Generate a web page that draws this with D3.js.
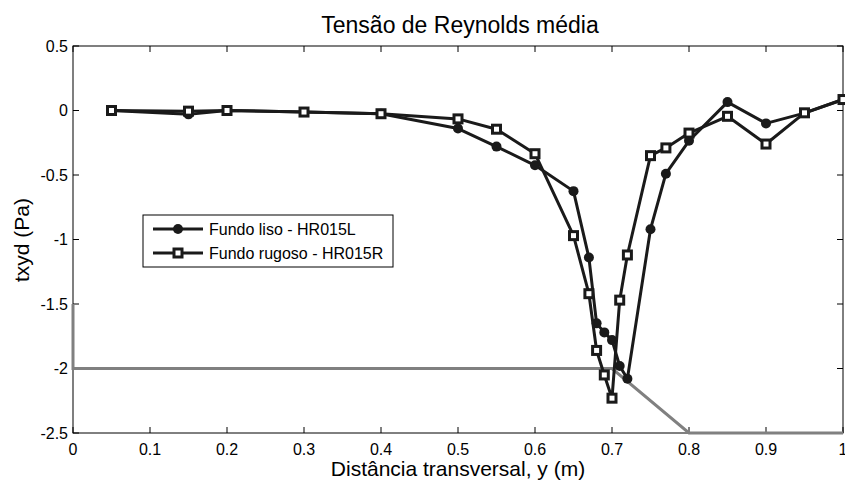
<!DOCTYPE html>
<html>
<head>
<meta charset="utf-8">
<script src="https://cdn.jsdelivr.net/npm/d3@7"></script>
<style>
  body { margin: 0; background: #fff; }
  svg { display: block; font-family: "Liberation Sans", Arial, sans-serif; }
</style>
</head>
<body>
<svg id="chart" width="845" height="482"></svg>
<script>
// data
var xLiso = [0.05, 0.15, 0.2, 0.3, 0.4, 0.5, 0.55, 0.6, 0.65, 0.67, 0.68, 0.69, 0.70, 0.71, 0.72, 0.75, 0.77, 0.8, 0.85, 0.9, 0.95, 1.0];
var yLiso = [0, -0.03, 0, -0.012, -0.025, -0.14, -0.28, -0.425, -0.625, -1.14, -1.65, -1.72, -1.78, -1.98, -2.08, -0.92, -0.49, -0.235, 0.065, -0.1, -0.02, 0.085];

var xRugoso = [0.05, 0.15, 0.2, 0.3, 0.4, 0.5, 0.55, 0.6, 0.65, 0.67, 0.68, 0.69, 0.70, 0.71, 0.72, 0.75, 0.77, 0.8, 0.85, 0.9, 0.95, 1.0];
var yRugoso = [0, -0.005, 0, -0.012, -0.025, -0.065, -0.145, -0.335, -0.97, -1.42, -1.86, -2.05, -2.23, -1.47, -1.12, -0.35, -0.29, -0.175, -0.045, -0.26, -0.018, 0.085];

// gray reference profile
var xFundo = [0, 0, 0.7, 0.8, 1.0];
var yFundo = [-1.5, -2, -2, -2.5, -2.5];

var xTicks = [0, 0.1, 0.2, 0.3, 0.4, 0.5, 0.6, 0.7, 0.8, 0.9, 1];
var yTicks = [0.5, 0, -0.5, -1, -1.5, -2, -2.5];

var legendLabels = ["Fundo liso - HR015L", "Fundo rugoso - HR015R"];

var svg = d3.select("#chart");
var margins = { top: 46, bottom: 49, left: 73, right: 2 };
var width = 845 - margins.left - margins.right;
var height = 482 - margins.top - margins.bottom;

var x = d3.scaleLinear().domain([0, 1]).range([margins.left, margins.left + width]);
var y = d3.scaleLinear().domain([-2.5, 0.5]).range([margins.top + height, margins.top]);

var tickLen = 6;

// box
svg.append("rect")
    .attr("x", x(0)).attr("y", y(0.5))
    .attr("width", x(1) - x(0)).attr("height", y(-2.5) - y(0.5))
    .attr("fill", "none").attr("stroke", "#000").attr("stroke-width", 1);

// ticks (inward, all four sides)
var g = svg.append("g");
xTicks.forEach(function (t) {
    g.append("line").attr("x1", x(t)).attr("x2", x(t)).attr("y1", y(-2.5)).attr("y2", y(-2.5) - tickLen).attr("stroke", "#000");
    g.append("line").attr("x1", x(t)).attr("x2", x(t)).attr("y1", y(0.5)).attr("y2", y(0.5) + tickLen).attr("stroke", "#000");
    g.append("text").attr("x", x(t)).attr("y", 455)
        .attr("text-anchor", "middle").style("font-size", "16px").text(t);
});
yTicks.forEach(function (t) {
    g.append("line").attr("x1", x(0)).attr("x2", x(0) + tickLen).attr("y1", y(t)).attr("y2", y(t)).attr("stroke", "#000");
    g.append("line").attr("x1", x(1)).attr("x2", x(1) - tickLen).attr("y1", y(t)).attr("y2", y(t)).attr("stroke", "#000");
    g.append("text").attr("x", x(0) - 5).attr("y", y(t)).attr("dy", "0.35em")
        .attr("text-anchor", "end").style("font-size", "16px").text(t);
});

// gray bottom profile
var line = d3.line().x(function (d) { return x(d[0]); }).y(function (d) { return y(d[1]); });
svg.append("path")
    .datum(d3.zip(xFundo, yFundo))
    .attr("d", line)
    .attr("fill", "none").attr("stroke", "#808080").attr("stroke-width", 3);

function drawSeries(xs, ys, marker) {
    var pts = d3.zip(xs, ys);
    svg.append("path").datum(pts).attr("d", line)
        .attr("fill", "none").attr("stroke", "#1a1a1a").attr("stroke-width", 3).attr("stroke-linejoin", "round");
    if (marker === "circle") {
        svg.selectAll(null).data(pts).enter().append("circle")
            .attr("cx", function (d) { return x(d[0]); })
            .attr("cy", function (d) { return y(d[1]); })
            .attr("r", 5).attr("fill", "#1a1a1a");
    } else {
        svg.selectAll(null).data(pts).enter().append("rect")
            .attr("x", function (d) { return x(d[0]) - 4; })
            .attr("y", function (d) { return y(d[1]) - 4; })
            .attr("width", 8).attr("height", 8)
            .attr("fill", "#fff").attr("stroke", "#1a1a1a").attr("stroke-width", 3);
    }
}
drawSeries(xLiso, yLiso, "circle");
drawSeries(xRugoso, yRugoso, "square");

// legend
var lg = svg.append("g").attr("transform", "translate(143,215)");
lg.append("rect").attr("width", 250).attr("height", 52)
    .attr("fill", "#fff").attr("stroke", "#000").attr("stroke-width", 1);
legendLabels.forEach(function (lab, i) {
    var ly = 14 + i * 24;
    lg.append("line").attr("x1", 10).attr("x2", 60).attr("y1", ly).attr("y2", ly)
        .attr("stroke", "#1a1a1a").attr("stroke-width", 3);
    if (i === 0) {
        lg.append("circle").attr("cx", 35).attr("cy", ly).attr("r", 5).attr("fill", "#1a1a1a");
    } else {
        lg.append("rect").attr("x", 31).attr("y", ly - 4).attr("width", 8).attr("height", 8)
            .attr("fill", "#fff").attr("stroke", "#1a1a1a").attr("stroke-width", 3);
    }
    lg.append("text").attr("x", 66).attr("y", ly).attr("dy", "0.35em")
        .style("font-size", "16px").text(lab);
});

// titles
svg.append("text").attr("x", 460).attr("y", 33).attr("text-anchor", "middle")
    .style("font-size", "23px").text("Tensão de Reynolds média");
svg.append("text").attr("x", 458).attr("y", 476).attr("text-anchor", "middle")
    .style("font-size", "21px").text("Distância transversal, y (m)");
svg.append("text").attr("transform", "translate(29,240) rotate(-90)")
    .attr("text-anchor", "middle").style("font-size", "21px").text("txyd (Pa)");
</script>
</body>
</html>
